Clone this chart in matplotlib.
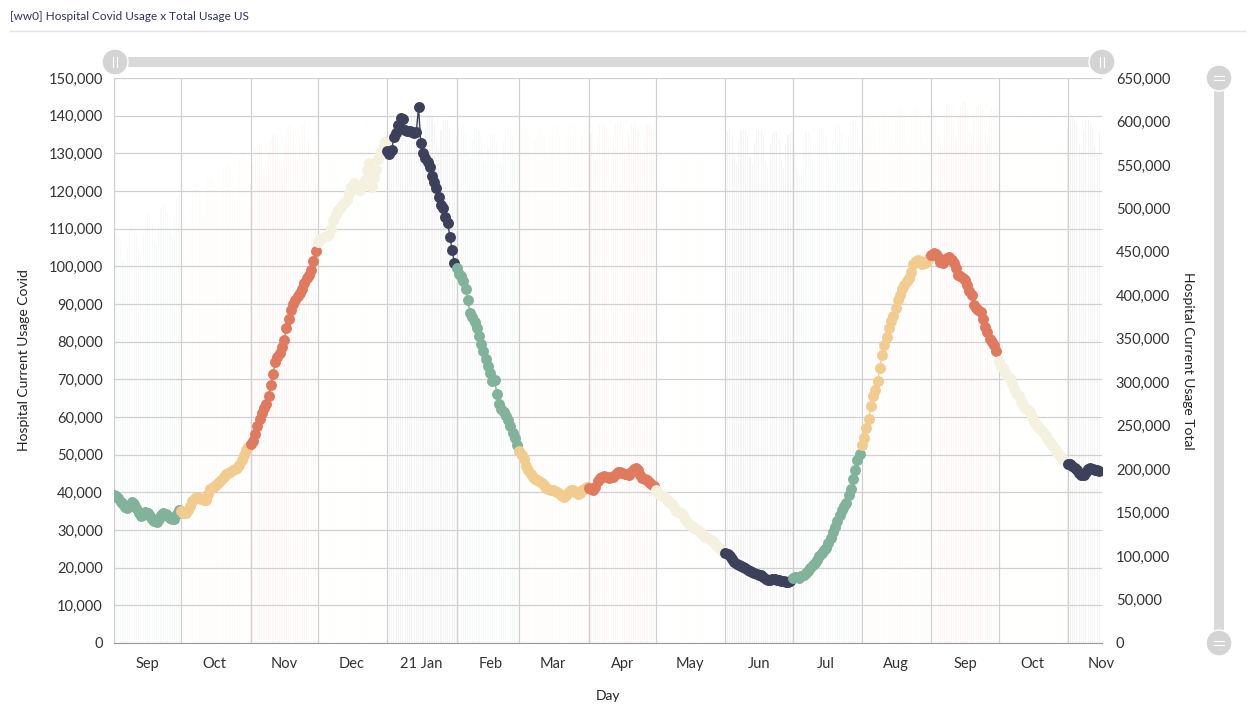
import numpy as np
import matplotlib
matplotlib.use('Agg')
import matplotlib.pyplot as plt
import matplotlib.dates as mdates
from matplotlib.patches import Circle, FancyBboxPatch
from matplotlib.ticker import FuncFormatter, MultipleLocator

plt.rcParams['font.family'] = ['Lato', 'DejaVu Sans']

# Hospital current usage, covid (thousands), one list per month
covid_2020_09 = [39.2, 39.0, 38.6, 37.5, 36.8, 36.2, 35.8, 36.5, 37.4, 37.0, 35.8, 34.6, 33.6, 34.0, 34.8,
                 34.6, 33.7, 33.0, 32.4, 32.0, 32.8, 34.0, 34.5, 34.2, 33.6, 33.2, 32.9, 32.8, 34.2, 35.3]
covid_2020_10 = [35.0, 34.6, 34.5, 35.2, 36.5, 37.8, 38.5, 38.8, 38.6, 38.2, 38.0, 38.0, 39.5, 41.0, 41.5, 41.8,
                 42.3, 42.7, 43.3, 44.2, 45.0, 45.2, 45.4, 45.8, 46.3, 46.5, 47.3, 48.6, 50.0, 51.3, 52.0]
covid_2020_11 = [52.8, 53.5, 55.5, 57.5, 59.5, 61.0, 62.3, 63.5, 65.5, 68.5, 71.5, 74.5, 76.0, 77.0, 78.5,
                 80.5, 83.5, 86.0, 88.5, 90.0, 91.0, 92.0, 93.0, 94.0, 95.5, 97.0, 97.8, 99.0, 101.5, 104.0]
covid_2020_12 = [106.5, 107.2, 107.5, 107.8, 108.0, 108.5, 110.0, 112.3, 114.0, 115.0, 115.5, 116.3, 117.2,
                 117.6, 119.5, 121.0, 122.0, 121.5, 120.5, 120.3, 121.5, 123.0, 125.5, 127.4, 121.0, 123.5,
                 125.6, 128.5, 130.0, 131.5, 133.0]
covid_2021_01 = [130.5, 129.8, 131.0, 134.3, 135.4, 137.5, 139.4, 139.0, 136.2, 135.8, 136.0, 135.7, 135.5,
                 135.7, 142.2, 132.8, 130.0, 128.8, 127.7, 126.5, 124.0, 122.5, 120.8, 118.5, 116.3, 115.5,
                 113.0, 111.5, 107.8, 104.3, 100.9]
covid_2021_02 = [99.5, 98.0, 97.5, 96.0, 94.0, 91.0, 87.5, 86.5, 85.2, 83.5, 81.5, 79.5, 77.5, 75.5, 73.5,
                 71.7, 69.5, 69.8, 66.0, 63.5, 62.0, 61.2, 60.3, 59.2, 57.5, 55.8, 54.4, 52.5]
covid_2021_03 = [51.0, 50.0, 48.8, 47.0, 45.8, 44.8, 44.0, 43.6, 43.3, 43.0, 42.5, 42.0, 41.2, 40.8, 40.6,
                 40.7, 40.3, 40.0, 39.5, 39.0, 38.8, 39.3, 40.0, 40.5, 40.6, 40.0, 39.6, 39.8, 40.5, 41.0, 41.4]
covid_2021_04 = [41.2, 40.8, 40.6, 41.5, 43.0, 43.8, 44.0, 44.3, 44.0, 43.8, 44.2, 44.0, 44.8, 45.5, 45.4,
                 45.2, 45.0, 44.8, 44.6, 45.5, 46.2, 46.5, 45.8, 44.5, 43.8, 43.5, 43.2, 42.7, 42.2, 41.6]
covid_2021_05 = [40.5, 39.8, 39.3, 39.0, 38.5, 38.0, 37.4, 37.0, 36.0, 35.0, 34.8, 34.5, 34.0, 33.0, 32.0,
                 31.3, 31.0, 30.6, 30.2, 30.0, 29.3, 28.6, 28.2, 27.9, 27.6, 27.2, 26.8, 26.0, 25.3, 24.7, 24.2]
covid_2021_06 = [23.8, 23.5, 23.0, 22.2, 21.5, 21.0, 20.8, 20.5, 20.2, 19.8, 19.3, 19.0, 18.8, 18.6, 18.3,
                 18.1, 18.0, 17.5, 17.0, 16.8, 16.8, 16.9, 17.0, 16.8, 16.6, 16.5, 16.4, 16.3, 16.1, 16.5]
covid_2021_07 = [17.2, 17.6, 17.5, 17.3, 17.7, 18.0, 18.5, 19.2, 19.9, 20.6, 21.2, 22.0, 23.0, 23.8, 24.6,
                 25.3, 26.5, 28.0, 29.5, 30.8, 32.5, 34.0, 35.3, 36.5, 37.3, 39.3, 41.0, 43.5, 46.0, 48.5, 50.3]
covid_2021_08 = [52.5, 54.5, 57.0, 59.5, 63.0, 65.5, 67.2, 69.5, 73.0, 76.5, 79.0, 81.2, 83.5, 85.5, 86.8,
                 89.0, 91.0, 92.4, 94.0, 95.0, 96.0, 96.8, 98.5, 100.5, 101.5, 101.7, 101.5, 100.6, 100.9,
                 101.5, 102.2]
covid_2021_09 = [103.0, 103.5, 103.3, 102.5, 101.2, 100.9, 101.8, 102.3, 102.5, 101.8, 100.9, 99.5, 97.7,
                 97.4, 97.0, 96.4, 95.0, 93.5, 92.4, 89.7, 89.0, 88.5, 87.9, 86.0, 84.0, 82.5, 80.8, 80.0,
                 79.0, 77.5]
covid_2021_10 = [74.8, 73.5, 73.0, 72.0, 71.0, 70.4, 69.0, 67.5, 66.4, 65.5, 64.2, 63.2, 62.5, 61.8, 61.3,
                 60.0, 58.8, 57.9, 57.2, 56.5, 56.0, 55.0, 54.0, 53.4, 52.5, 51.5, 50.7, 50.0, 49.3, 48.6, 48.0]
covid_2021_11 = [47.6, 47.5, 47.0, 46.5, 45.9, 45.2, 44.7, 44.6, 45.5, 46.3, 46.5, 46.2, 46.0, 45.9, 45.7]

# Hospital current usage, total (thousands)
total_2020_09 = [468, 472, 470, 462, 440, 436, 455, 478, 482, 480, 472, 452, 448, 470, 490, 494, 492, 484,
                 462, 458, 480, 500, 505, 503, 495, 474, 468, 492, 512, 515]
total_2020_10 = [516, 508, 486, 480, 504, 522, 526, 528, 520, 498, 492, 515, 534, 538, 540, 532, 510, 503,
                 528, 546, 550, 552, 545, 522, 515, 540, 558, 562, 565, 556, 534]
total_2020_11 = [528, 552, 570, 574, 575, 566, 545, 538, 562, 580, 584, 586, 578, 556, 548, 572, 590, 594,
                 596, 588, 566, 558, 582, 598, 600, 570, 578, 560, 556, 586]
total_2020_12 = [600, 603, 604, 596, 574, 566, 590, 604, 606, 606, 598, 576, 568, 592, 605, 607, 606, 598,
                 576, 568, 590, 603, 602, 590, 560, 556, 560, 588, 602, 604, 596]
total_2021_01 = [565, 568, 570, 598, 608, 611, 610, 602, 580, 574, 598, 610, 612, 610, 602, 580, 572, 594,
                 606, 608, 606, 598, 576, 568, 590, 602, 603, 600, 592, 570, 562]
total_2021_02 = [585, 596, 597, 595, 587, 565, 558, 580, 592, 593, 590, 582, 560, 552, 570, 584, 586, 585,
                 578, 558, 552, 575, 588, 590, 589, 582, 561, 555]
total_2021_03 = [578, 590, 592, 591, 584, 563, 556, 580, 592, 594, 593, 586, 565, 558, 582, 594, 596, 595,
                 588, 567, 560, 584, 596, 598, 597, 590, 568, 561, 586, 597, 598]
total_2021_04 = [596, 586, 562, 555, 582, 596, 599, 598, 590, 568, 560, 585, 598, 600, 599, 591, 569, 561,
                 586, 598, 600, 598, 590, 568, 560, 584, 596, 598, 596, 588]
total_2021_05 = [566, 558, 582, 594, 596, 594, 586, 564, 556, 580, 592, 594, 593, 585, 563, 555, 579, 591,
                 593, 592, 584, 562, 554, 578, 590, 592, 590, 580, 556, 548, 545]
total_2021_06 = [584, 590, 591, 583, 560, 552, 577, 589, 591, 590, 582, 559, 551, 576, 588, 590, 589, 580,
                 556, 548, 574, 586, 589, 588, 579, 555, 546, 572, 585, 588]
total_2021_07 = [586, 574, 548, 540, 545, 582, 588, 589, 581, 558, 550, 576, 590, 593, 593, 585, 562, 554,
                 580, 594, 597, 597, 589, 566, 558, 584, 598, 601, 601, 593, 570]
total_2021_08 = [562, 590, 604, 607, 607, 599, 576, 568, 596, 609, 612, 612, 604, 581, 573, 600, 612, 615,
                 615, 607, 584, 576, 603, 614, 617, 616, 608, 585, 577, 604, 616]
total_2021_09 = [618, 618, 608, 584, 576, 570, 610, 620, 621, 612, 588, 580, 607, 619, 622, 621, 613, 589,
                 581, 607, 618, 621, 620, 612, 588, 580, 606, 617, 619, 618]
total_2021_10 = [608, 584, 576, 602, 614, 616, 615, 606, 582, 574, 600, 612, 614, 613, 604, 580, 572, 598,
                 610, 612, 611, 602, 578, 570, 596, 608, 610, 609, 600, 576, 568]
total_2021_11 = [594, 603, 604, 602, 596, 574, 566, 590, 602, 603, 598, 594, 572, 564, 588]

covid_months = [covid_2020_09, covid_2020_10, covid_2020_11, covid_2020_12, covid_2021_01, covid_2021_02,
                covid_2021_03, covid_2021_04, covid_2021_05, covid_2021_06, covid_2021_07, covid_2021_08,
                covid_2021_09, covid_2021_10, covid_2021_11]
total_months = [total_2020_09, total_2020_10, total_2020_11, total_2020_12, total_2021_01, total_2021_02,
                total_2021_03, total_2021_04, total_2021_05, total_2021_06, total_2021_07, total_2021_08,
                total_2021_09, total_2021_10, total_2021_11]

month_labels = ['Sep', 'Oct', 'Nov', 'Dec', '21 Jan', 'Feb', 'Mar', 'Apr', 'May', 'Jun', 'Jul', 'Aug',
                'Sep', 'Oct', 'Nov']
palette = ['#81b29a', '#f2cc8f', '#e07a5f', '#f4f1de', '#3d405b']

start = np.datetime64('2020-09-01')

fig = plt.figure(figsize=(12.5, 7.25), dpi=100)
ax = fig.add_axes([114 / 1250, 1 - 643 / 725, 988 / 1250, 565 / 725])
ax2 = ax.twinx()
ax.set_zorder(ax2.get_zorder() + 1)
ax.patch.set_visible(False)

day = 0
prev = None
for i, (cv, tt) in enumerate(zip(covid_months, total_months)):
    n = len(cv)
    dates = start + np.arange(day, day + n)
    color = palette[i % 5]
    cv = np.array(cv) * 1000
    ax2.bar(dates, np.array(tt) * 1000, width=0.5, color=color, alpha=0.055, linewidth=0)
    if prev is not None:
        ax.plot([prev[0], dates[0]], [prev[1], cv[0]], color=color, lw=1, zorder=2)
    ax.plot(dates, cv, color=color, lw=1, zorder=2)
    ax.scatter(dates, cv, s=62, color=color, linewidths=0, zorder=3)
    prev = (dates[-1], cv[-1])
    day += n

x0 = mdates.date2num(start)
ax.set_xlim(x0, x0 + 441.2)
ax.set_ylim(0, 150000)
ax2.set_ylim(0, 650000)

# month labels sit in the middle of each month, grid lines on month starts
mid_months = [start.astype('datetime64[M]') + k for k in range(len(month_labels))]
ax.set_xticks([mdates.date2num(m.astype('datetime64[D]') + 15) for m in mid_months])
ax.set_xticklabels(month_labels)
ax.xaxis.set_minor_locator(mdates.MonthLocator(bymonthday=1))

fmt = FuncFormatter(lambda v, p: f'{v:,.0f}')
ax.yaxis.set_major_locator(MultipleLocator(10000))
ax.yaxis.set_major_formatter(fmt)
ax2.yaxis.set_major_locator(MultipleLocator(50000))
ax2.yaxis.set_major_formatter(fmt)

ax.grid(axis='y', color='#d0d0d0', lw=0.9)
ax.grid(axis='x', which='minor', color='#d0d0d0', lw=0.9)
ax.grid(axis='x', which='major', visible=False)
ax.set_axisbelow(True)

for a in (ax, ax2):
    for s in ('top', 'right', 'left', 'bottom'):
        a.spines[s].set_visible(False)
ax.spines['left'].set_visible(True)
ax.spines['left'].set_color('#d0d0d0')
ax.spines['bottom'].set_visible(True)
ax.spines['bottom'].set_color('#999999')

ax.tick_params(axis='both', which='both', length=0, labelsize=10.5, labelcolor='#333333')
ax.tick_params(axis='y', pad=8)
ax.tick_params(axis='x', pad=10)
ax2.tick_params(axis='y', length=0, labelsize=10.5, labelcolor='#333333', pad=10)

ax.set_ylabel('Hospital Current Usage Covid', fontsize=10, color='#222222')
ax.yaxis.set_label_coords(-0.085, 0.5)
ax2.set_ylabel('Hospital Current Usage Total', fontsize=10, color='#222222', rotation=270, va='center')
ax2.yaxis.set_label_coords(1.087, 0.5)
ax.set_xlabel('Day', fontsize=10, color='#222222')
ax.xaxis.set_label_coords(0.5, -0.083)

# title and the widget decorations, drawn in pixel coordinates
ov = fig.add_axes([0, 0, 1, 1])
ov.set_xlim(0, 1250)
ov.set_ylim(725, 0)
ov.axis('off')
ov.text(10, 16, '[ww0] Hospital Covid Usage x Total Usage US', fontsize=8.5, color='#2e3160', va='center')
ov.plot([10, 1245], [31, 31], color='#e3e3e3', lw=1)

slider = '#d9d9d9'
ov.add_patch(FancyBboxPatch((115, 57), 987, 10, boxstyle='round,pad=0,rounding_size=5', color=slider, lw=0))
ov.add_patch(FancyBboxPatch((1214, 78), 10, 565, boxstyle='round,pad=0,rounding_size=5', color=slider, lw=0))
for cx, cy in [(115, 62), (1102, 62)]:
    ov.add_patch(Circle((cx, cy), 13, color='#d4d4d4', ec='white', lw=1))
    ov.plot([cx - 2, cx - 2], [cy - 5, cy + 5], color='white', lw=0.8)
    ov.plot([cx + 2, cx + 2], [cy - 5, cy + 5], color='white', lw=0.8)
for cx, cy in [(1219, 78), (1219, 643)]:
    ov.add_patch(Circle((cx, cy), 13, color='#d4d4d4', ec='white', lw=1))
    ov.plot([cx - 5, cx + 5], [cy - 2, cy - 2], color='white', lw=0.8)
    ov.plot([cx + 5, cx - 5], [cy + 2, cy + 2], color='white', lw=0.8)

fig.savefig('out.png', dpi=100)
